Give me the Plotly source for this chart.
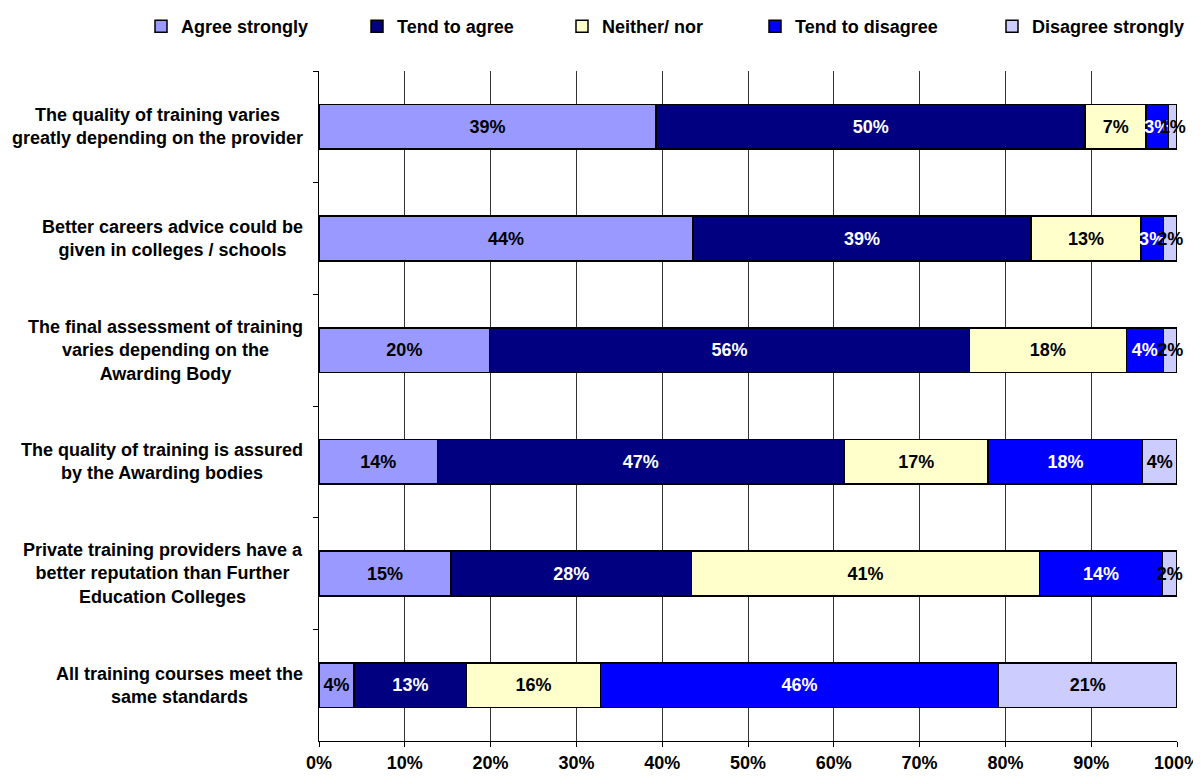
import plotly.graph_objects as go

statements = [
    "The quality of training varies<br>greatly depending on the provider",
    "Better careers advice could be<br>given in colleges / schools",
    "The final assessment of training<br>varies depending on the<br>Awarding Body",
    "The quality of training is assured<br>by the Awarding bodies",
    "Private training providers have a<br>better reputation than Further<br>Education Colleges",
    "All training courses meet the<br>same standards",
]

series_names = ["Agree strongly", "Tend to agree", "Neither/ nor", "Tend to disagree", "Disagree strongly"]

agree_strongly    = [39.3, 43.6, 19.9, 13.8, 15.4, 4.1]
tend_to_agree     = [50.0, 39.4, 55.9, 47.4, 28.0, 13.1]
neither_nor       = [7.1, 12.8, 18.3, 16.8, 40.6, 15.6]
tend_to_disagree  = [2.6, 2.6, 4.3, 18.0, 14.3, 46.4]
disagree_strongly = [1.0, 1.6, 1.6, 4.0, 1.7, 20.8]

x_ticks = [0, 10, 20, 30, 40, 50, 60, 70, 80, 90, 100]

series_values = [agree_strongly, tend_to_agree, neither_nor, tend_to_disagree, disagree_strongly]
colors = ["#9999FF", "#000080", "#FFFFCC", "#0000FF", "#CCCCFF"]
text_colors = ["black", "white", "black", "white", "black"]
legend_widths = [171, 160, 148, 192, 152]

FONT = "Liberation Sans, Arial, sans-serif"
FS = 18

# The page body adds an 8px offset, so the figure is 8px smaller than the window.
W, H = 1193, 770
ML, MR, MT, MB = 311, 24, 63, 37
PW, PH = W - ML - MR, H - MT - MB

fig = go.Figure()
for name, vals, col, tcol, lw in zip(series_names, series_values, colors, text_colors, legend_widths):
    fig.add_trace(go.Bar(
        y=statements, x=vals, name=name, orientation="h",
        marker=dict(color=col, line=dict(color="black", width=1.5)),
        text=vals, texttemplate="<b>%{x:.0f}%</b>", textposition="inside",
        insidetextanchor="middle", textangle=0, constraintext="none",
        cliponaxis=False,
        textfont=dict(family=FONT, size=FS, color=tcol),
        legendwidth=lw, hoverinfo="skip",
    ))

for s in statements:
    fig.add_annotation(
        x=-14 / PW, xref="paper", y=s, yref="y", xanchor="right", yanchor="middle",
        text="<b>" + s + "</b>", align="center", showarrow=False,
        font=dict(family=FONT, size=FS, color="black"),
    )

fig.update_layout(
    barmode="stack", bargap=0.6,
    width=W, height=H,
    margin=dict(l=ML, r=MR, t=MT, b=MB, pad=0, autoexpand=False),
    plot_bgcolor="white", paper_bgcolor="white",
    font=dict(family=FONT, size=FS, color="black"),
    showlegend=True,
    legend=dict(
        orientation="h", xref="paper", yref="paper",
        x=(133 - ML) / PW, xanchor="left", y=1 + MT / PH, yanchor="top",
        font=dict(family=FONT, size=FS, color="black", weight="bold"),
        traceorder="normal", itemwidth=30, borderwidth=0,
        bgcolor="rgba(0,0,0,0)",
    ),
    xaxis=dict(
        range=[0, 100], tickvals=x_ticks, ticktext=[f"<b>{v}%</b>" for v in x_ticks],
        showgrid=True, gridcolor="#333333", gridwidth=1,
        showline=True, linecolor="black", linewidth=1,
        ticks="outside", ticklen=5, tickcolor="black",
        tickfont=dict(family=FONT, size=FS, color="black"),
        zeroline=False, fixedrange=True,
    ),
    yaxis=dict(
        categoryorder="array", categoryarray=statements, autorange="reversed",
        showticklabels=False, showgrid=False,
        showline=True, linecolor="black", linewidth=1,
        ticks="outside", ticklen=5, tickcolor="black", tickson="boundaries",
        fixedrange=True,
    ),
)

fig.write_html("out.html")
